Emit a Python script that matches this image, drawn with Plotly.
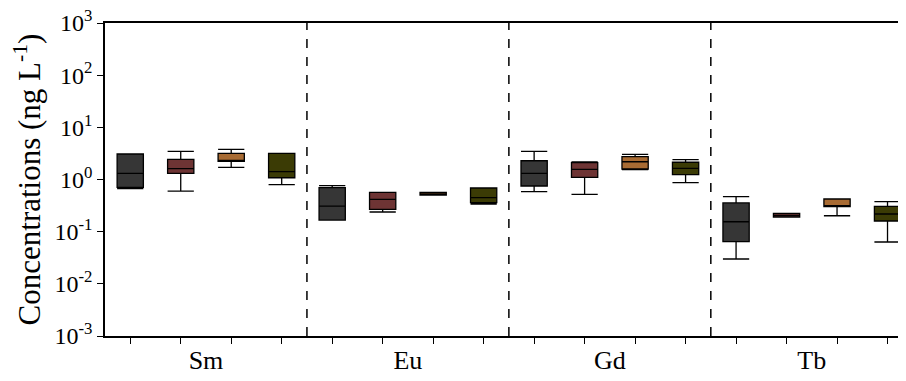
import plotly.graph_objects as go

elements = ["Sm", "Eu", "Gd", "Tb"]
series_names = ["S1", "S2", "S3", "S4"]
colors = ["#363636", "#6e3434", "#a86b33", "#3b3b05"]

# per series: values for Sm, Eu, Gd, Tb
lower = [
    [0.667, 0.167, 0.584, 0.0299],
    [0.60, 0.238, 0.52, 0.191],
    [1.71, 0.505, 1.54, 0.202],
    [0.795, 0.339, 0.868, 0.0634],
]
q1 = [
    [0.708, 0.167, 0.75, 0.0643],
    [1.31, 0.268, 1.10, 0.191],
    [2.23, 0.505, 1.59, 0.301],
    [1.08, 0.359, 1.24, 0.160],
]
median = [
    [1.31, 0.31, 1.31, 0.155],
    [1.61, 0.417, 1.57, 0.205],
    [2.25, 0.53, 2.19, 0.305],
    [1.41, 0.448, 1.64, 0.218],
]
q3 = [
    [3.08, 0.697, 2.29, 0.355],
    [2.44, 0.568, 2.10, 0.225],
    [3.18, 0.568, 2.74, 0.423],
    [3.18, 0.687, 2.14, 0.306],
]
upper = [
    [3.08, 0.76, 3.47, 0.468],
    [3.47, 0.568, 2.17, 0.225],
    [3.79, 0.568, 3.04, 0.423],
    [3.18, 0.687, 2.40, 0.375],
]

n_series = len(series_names)
fig = go.Figure()
for s in range(n_series):
    xs = [g * n_series + s for g in range(len(elements))]
    fig.add_trace(go.Box(
        x=xs, q1=q1[s], median=median[s], q3=q3[s],
        lowerfence=lower[s], upperfence=upper[s],
        name=series_names[s], fillcolor=colors[s],
        line=dict(color="black", width=1.3),
        width=0.52, whiskerwidth=1, boxpoints=False,
        showlegend=False, hoverinfo="skip",
    ))

for g in range(1, len(elements)):
    xv = g * n_series - 0.5
    fig.add_shape(type="line", xref="x", yref="paper", x0=xv, x1=xv, y0=0, y1=1,
                  line=dict(color="black", width=1.5, dash="dash"))

font_family = "Liberation Serif, Times New Roman, serif"
fig.update_layout(
    width=898, height=373,
    margin=dict(l=97, r=0, t=15, b=45),
    plot_bgcolor="white", paper_bgcolor="white",
    font=dict(family=font_family, color="black", size=24),
    boxmode="overlay",
    xaxis=dict(
        range=[-0.5, 15.366], automargin=False,
        tickvals=[g * n_series + (n_series - 1) / 2 for g in range(len(elements))],
        ticktext=elements,
        ticks="", showgrid=False, zeroline=False,
        showline=True, linecolor="black", linewidth=1.5, mirror=True,
        ticklabelstandoff=0, ticklabeloverflow="allow",
        minor=dict(tickvals=list(range(len(elements) * n_series)), ticks="outside",
                   ticklen=6, tickcolor="black", tickwidth=1, showgrid=False),
        tickfont=dict(family=font_family, size=26),
    ),
    yaxis=dict(
        type="log", range=[-3, 3], automargin=False,
        tickvals=[10.0 ** k for k in range(-3, 4)],
        ticktext=[f"10<sup>{k}</sup>" for k in range(-3, 4)],
        ticks="outside", ticklen=6, tickcolor="black", tickwidth=1,
        showgrid=False, zeroline=False, ticklabeloverflow="allow",
        showline=True, linecolor="black", linewidth=1.5, mirror=True,
        tickfont=dict(family=font_family, size=24),
        title=dict(text="Concentrations (ng L<sup>-1</sup>)", font=dict(size=31), standoff=14),
    ),
)

fig.write_html("out.html")
